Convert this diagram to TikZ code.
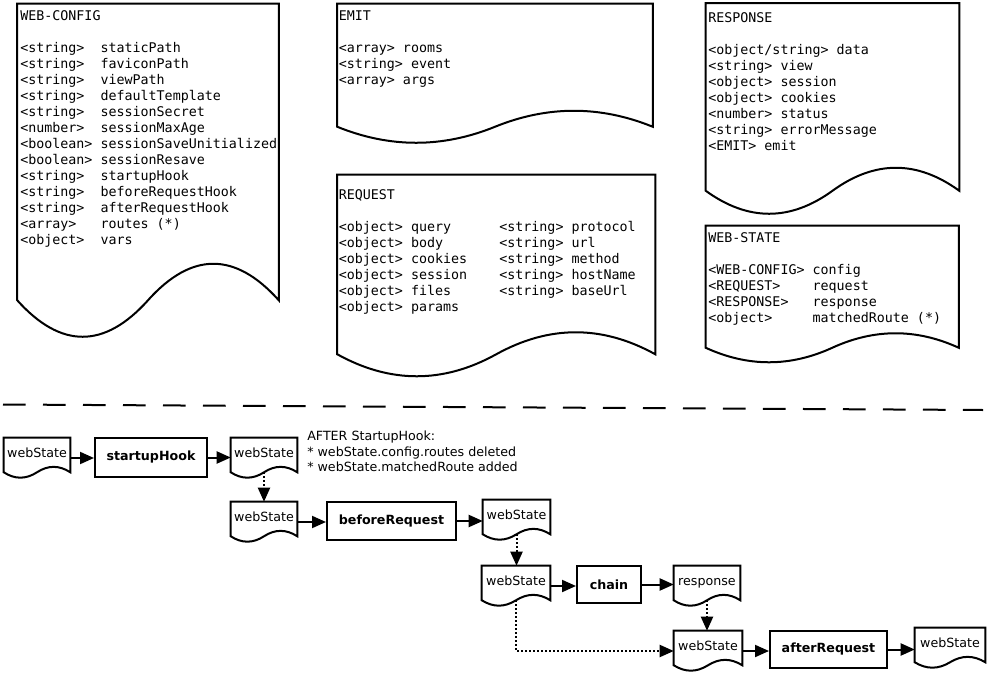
\documentclass[tikz,border=0pt]{standalone}
\usepackage{fontspec}
\setmainfont{DejaVu Sans}
\setmonofont{DejaVu Sans Mono}
\usetikzlibrary{arrows.meta,calc}
\newcommand\pxu{0.75pt}
% #1 node name, #2 wave amplitude (px), #3 lift of side ends above node bottom (px)
\newcommand\docoutline[3]{%
  \draw[docline] (#1.north west) -- (#1.north east) -- ($(#1.south east)+(0,-#3)$)
    .. controls ($(#1.south east)!1/6!(#1.south west)+(0,-#3-1.3333*#2)$) and ($(#1.south east)!1/3!(#1.south west)+(0,-#3-1.3333*#2)$) .. ($(#1.south)+(0,-#3)$)
    .. controls ($(#1.south)!1/3!(#1.south west)+(0,-#3+1.3333*#2)$) and ($(#1.south)!2/3!(#1.south west)+(0,-#3+1.3333*#2)$) .. ($(#1.south west)+(0,-#3)$) -- cycle;}
\tikzset{
  docline/.style={line width=1.5pt},
  bigdoc/.style={inner sep=0pt},
  smalldoc/.style={inner sep=0pt, minimum width=66*\pxu, minimum height=40*\pxu, font=\fontsize{9.5}{11.8}\selectfont, text height=7pt, text depth=8.5pt},
  procbox/.style={draw, line width=1.5pt, inner sep=0pt, minimum height=38*\pxu, font=\fontsize{9.5}{11.8}\selectfont\bfseries},
  doctext/.style={anchor=north west, inner sep=0pt, align=left, font=\fontsize{10}{12}\selectfont\ttfamily},
  notetext/.style={anchor=north west, inner sep=0pt, align=left, font=\fontsize{9.5}{11.8}\selectfont},
  flow/.style={line width=1.5pt, -{Triangle[length=10.5pt,width=9pt]}},
  dotflow/.style={flow, dash pattern=on 1.5pt off 1.5pt},
  sepline/.style={line width=1.5pt, dash pattern=on 17pt off 13pt},
}
\begin{document}
\begin{tikzpicture}[x=0.75pt,y=-0.75pt]
\useasboundingbox (0,0) rectangle (989,674);
\fill[white] (0,0) rectangle (989,674);

% ---------- data structures ----------
\node[bigdoc, minimum width=261*\pxu, minimum height=296*\pxu] (webconfig) at (148,152) {};
\docoutline{webconfig}{36.5}{0}
\node[doctext] (webconfigtxt) at (20,8.8) {\strut WEB-CONFIG\\ \strut\\
<string>~~staticPath\\
<string>~~faviconPath\\
<string>~~viewPath\\
<string>~~defaultTemplate\\
<string>~~sessionSecret\\
<number>~~sessionMaxAge\\
<boolean>~sessionSaveUnitialized\\
<boolean>~sessionResave\\
<string>~~startupHook\\
<string>~~beforeRequestHook\\
<string>~~afterRequestHook\\
<array>~~~routes~(*)\\
<object>~~vars};

\node[bigdoc, minimum width=315*\pxu, minimum height=122.5*\pxu] (emit) at (495,65.25) {};
\docoutline{emit}{16}{0}
\node[doctext] (emittxt) at (338.5,8.8) {\strut EMIT\\ \strut\\
<array>~rooms\\
<string>~event\\
<array>~args};

\node[bigdoc, minimum width=317.5*\pxu, minimum height=179*\pxu] (request) at (496.25,264.5) {};
\docoutline{request}{22}{0}
\node[doctext] (requesttxt) at (338.5,187.8) {\strut REQUEST\\ \strut\\
<object>~query~~~~~~<string>~protocol\\
<object>~body~~~~~~~<string>~url\\
<object>~cookies~~~~<string>~method\\
<object>~session~~~~<string>~hostName\\
<object>~files~~~~~~<string>~baseUrl\\
<object>~params};

\node[bigdoc, minimum width=253*\pxu, minimum height=187*\pxu] (response) at (832.5,97) {};
\docoutline{response}{23}{0}
\node[doctext] (responsetxt) at (708,10.8) {\strut RESPONSE\\ \strut\\
<object/string>~data\\
<string>~view\\
<object>~session\\
<object>~cookies\\
<number>~status\\
<string>~errorMessage\\
<EMIT>~emit};

\node[bigdoc, minimum width=252.5*\pxu, minimum height=121.5*\pxu] (webstate) at (832.25,286.75) {};
\docoutline{webstate}{14.5}{0}
\node[doctext] (webstatetxt) at (708,230.8) {\strut WEB-STATE\\ \strut\\
<WEB-CONFIG>~config\\
<REQUEST>~~~~request\\
<RESPONSE>~~~response\\
<object>~~~~~matchedRoute~(*)};

% ---------- separator ----------
\coordinate (sepL) at (3,404.5);
\coordinate (sepR) at (983,410);
\draw[sepline] (sepL) -- (sepR);

% ---------- flow ----------
\node[smalldoc] (ws1) at (37,458) {webState};
\docoutline{ws1}{5.4}{6}
\node[procbox, minimum width=112*\pxu, minimum height=39*\pxu] (startup) at (151,457.5) {startupHook};
\node[smalldoc] (ws2) at (264,458) {webState};
\docoutline{ws2}{5.4}{6}
\node[notetext] (note) at (307,429) {\strut AFTER StartupHook:\\{}* webState.config.routes deleted\\{}* webState.matchedRoute added};

\node[smalldoc] (ws3) at (264,522) {webState};
\docoutline{ws3}{5.4}{6}
\node[procbox, minimum width=129*\pxu] (before) at (391.5,521) {beforeRequest};
\node[smalldoc, minimum width=67*\pxu] (ws4) at (516.5,520) {webState};
\docoutline{ws4}{5.4}{6}

\node[smalldoc, minimum width=68*\pxu] (ws5) at (516,586) {webState};
\docoutline{ws5}{5.4}{6}
\node[procbox, minimum width=64*\pxu, minimum height=37*\pxu] (chain) at (609,584.5) {chain};
\node[smalldoc] (resp) at (707,586) {response};
\docoutline{resp}{5.4}{6}

\node[smalldoc, minimum width=68*\pxu] (ws6) at (708,651) {webState};
\docoutline{ws6}{5.4}{6}
\node[procbox, minimum width=117*\pxu, minimum height=37*\pxu] (after) at (828.5,649.5) {afterRequest};
\node[smalldoc, minimum width=70*\pxu] (ws7) at (950,648) {webState};
\docoutline{ws7}{5.4}{6}

\draw[flow] (ws1.east) -- (ws1.east -| startup.west);
\draw[flow] (startup.east) -- (startup.east -| ws2.west);
\draw[dotflow] ([yshift=4.5pt]ws2.south) -- (ws3.north);
\draw[flow] (ws3.east) -- (ws3.east -| before.west);
\draw[flow] (before.east) -- (before.east -| ws4.west);
\draw[dotflow] ([yshift=4.5pt]ws4.south) -- (ws4.south |- ws5.north);
\draw[flow] (ws5.east) -- (ws5.east -| chain.west);
\draw[flow] (chain.east) -- (chain.east -| resp.west);
\draw[dotflow] ([yshift=4.5pt]resp.south) -- (resp.south |- ws6.north);
\draw[dotflow] ([yshift=4.5pt]ws5.south) |- (ws6.west);
\draw[flow] (ws6.east) -- (ws6.east -| after.west);
\draw[flow] (after.east) -- (after.east -| ws7.west);
\end{tikzpicture}
\end{document}
